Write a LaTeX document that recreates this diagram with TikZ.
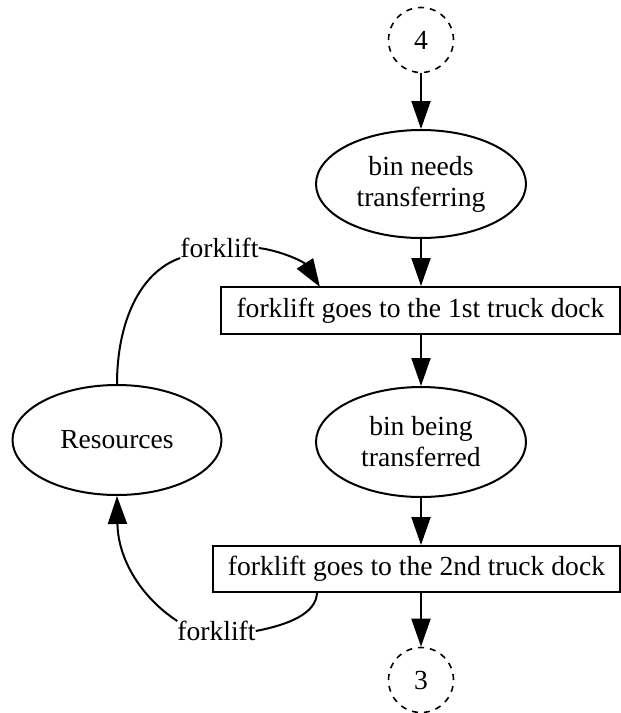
\documentclass[tikz,border=0pt]{standalone}
\usepackage{fontspec}
\setmainfont{Liberation Serif}
\usetikzlibrary{shapes.geometric,arrows.meta}

\begin{document}
\begin{tikzpicture}[x=1pt,y=-1pt,
  every node/.style={font=\fontsize{27.6}{31}\selectfont, inner sep=0pt},
  line/.style={line width=2pt},
  flow/.style={line, -{Triangle[length=28pt,width=19pt]}},
  state/.style={line, draw, ellipse, align=center, minimum height=108pt},
  activity/.style={line, draw, rectangle, minimum height=47pt},
  connector/.style={draw, circle, line width=1.6pt, dash pattern=on 6pt off 6pt, minimum size=65pt}
]
\useasboundingbox (0,0) rectangle (621,713);

% flow nodes
\node[connector] (c4) at (421,40) {4};
\node[state, minimum width=210pt] (e1) at (421,184) {bin needs\\transferring};
\node[activity, minimum width=399pt] (b1) at (420.5,310.5) {forklift goes to the 1st truck dock};
\node[state, minimum width=210pt, minimum height=110pt] (e2) at (421,442) {bin being\\transferred};
\node[activity, minimum width=407pt, minimum height=46pt] (b2) at (416.5,569) {forklift goes to the 2nd truck dock};
\node[connector] (c3) at (421,680) {3};

% resource pool
\node[state, minimum width=209pt, minimum height=110pt] (res) at (117,440) {Resources};

% edge labels
\node (l1) at (219.5,248) {forklift};
\node (l2) at (216.5,631) {forklift};

% main flow
\draw[flow] (c4.south) -- (e1.north);
\draw[flow] (e1.south) -- (b1.north -| e1.south);
\draw[flow] (b1.south -| e1.south) -- (e2.north);
\draw[flow] (e2.south) -- (b2.north -| e2.south);
\draw[flow] (b2.south -| e2.south) -- (c3.north);

% resource acquisition and release
\draw[line] (res.north) .. controls (117,322) and (140,272) .. (l1.south west);
\draw[flow] (l1.east) .. controls (282,251) and (304,262) .. (320,287);
\draw[line] (317,592) .. controls (317,614) and (287,625) .. (l2.east);
\draw[flow] (l2.north west) .. controls (142,598) and (118,560) .. (res.south);
\end{tikzpicture}
\end{document}
